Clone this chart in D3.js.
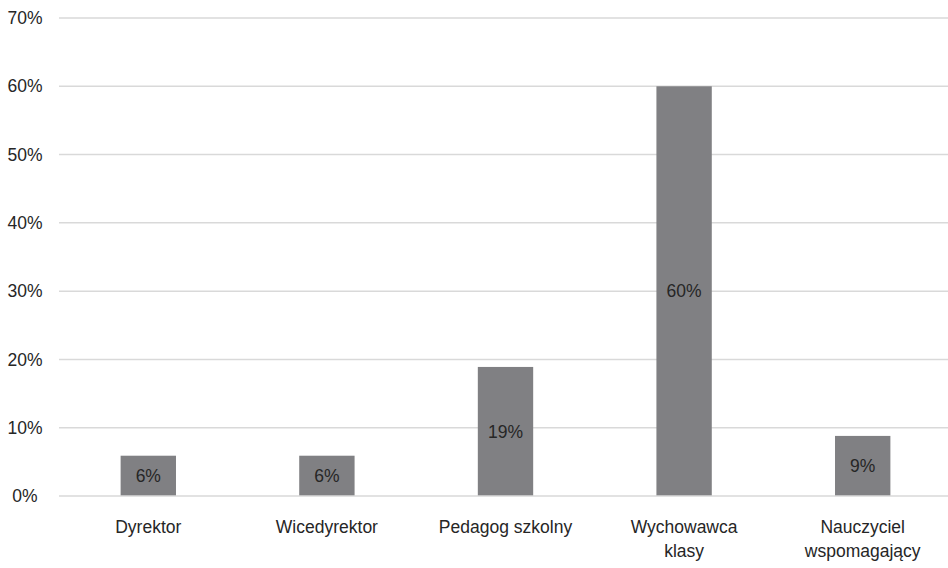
<!DOCTYPE html>
<html>
<head>
<meta charset="utf-8">
<script src="https://cdn.jsdelivr.net/npm/d3@7"></script>
<style>
  html, body { margin: 0; padding: 0; background: #fff; }
  svg { display: block; font-family: "Liberation Sans", Arial, sans-serif; }
</style>
</head>
<body>
<svg id="chart" width="948" height="568"></svg>
<script>
// Share of responses per school role (percent)
const categories = [
  ["Dyrektor"],
  ["Wicedyrektor"],
  ["Pedagog szkolny"],
  ["Wychowawca", "klasy"],
  ["Nauczyciel", "wspomagający"]
];
const values = [5.9, 5.9, 18.9, 60.0, 8.8];
const yTicks = [0, 10, 20, 30, 40, 50, 60, 70];

const svg = d3.select("#chart");
const keys = categories.map(c => c.join(" "));
const fontSize = 17.5;
const textColor = "#262626";

const x = d3.scaleBand()
  .domain(keys)
  .range([59, 952])
  .paddingInner(0.69)
  .paddingOuter(0.345);

const y = d3.scaleLinear()
  .domain([0, 70])
  .range([496, 18]);

// Horizontal gridlines
svg.append("g")
  .selectAll("line")
  .data(yTicks.filter(t => t > 0))
  .join("line")
  .attr("x1", 59).attr("x2", 948)
  .attr("y1", d => y(d)).attr("y2", d => y(d))
  .attr("stroke", "#d9d9d9")
  .attr("stroke-width", 1.5);

// Y tick labels
svg.append("g")
  .selectAll("text")
  .data(yTicks)
  .join("text")
  .attr("x", 25)
  .attr("y", d => y(d))
  .attr("dy", "0.35em")
  .attr("text-anchor", "middle")
  .attr("font-size", fontSize)
  .attr("fill", textColor)
  .text(d => d + "%");

// Bars
svg.append("g")
  .selectAll("rect")
  .data(values)
  .join("rect")
  .attr("x", (d, i) => x(keys[i]))
  .attr("width", x.bandwidth())
  .attr("y", d => y(d))
  .attr("height", d => y(0) - y(d))
  .attr("fill", "#808083");

// Baseline drawn over the bars
svg.append("line")
  .attr("x1", 59).attr("x2", 948)
  .attr("y1", y(0)).attr("y2", y(0))
  .attr("stroke", "#d9d9d9")
  .attr("stroke-width", 1.5);

// Value labels centred inside each bar
svg.append("g")
  .selectAll("text")
  .data(values)
  .join("text")
  .attr("x", (d, i) => x(keys[i]) + x.bandwidth() / 2)
  .attr("y", d => (y(d) + y(0)) / 2)
  .attr("dy", "0.35em")
  .attr("text-anchor", "middle")
  .attr("font-size", fontSize)
  .attr("fill", textColor)
  .text(d => Math.round(d) + "%");

// Category labels (may wrap onto two lines)
const catG = svg.append("g")
  .selectAll("text")
  .data(categories)
  .join("text")
  .attr("text-anchor", "middle")
  .attr("font-size", fontSize)
  .attr("fill", textColor);

catG.selectAll("tspan")
  .data((d, i) => d.map(line => ({ line, key: keys[i] })))
  .join("tspan")
  .attr("x", d => x(d.key) + x.bandwidth() / 2)
  .attr("y", (d, j) => 533 + j * 24)
  .text(d => d.line);
</script>
</body>
</html>
